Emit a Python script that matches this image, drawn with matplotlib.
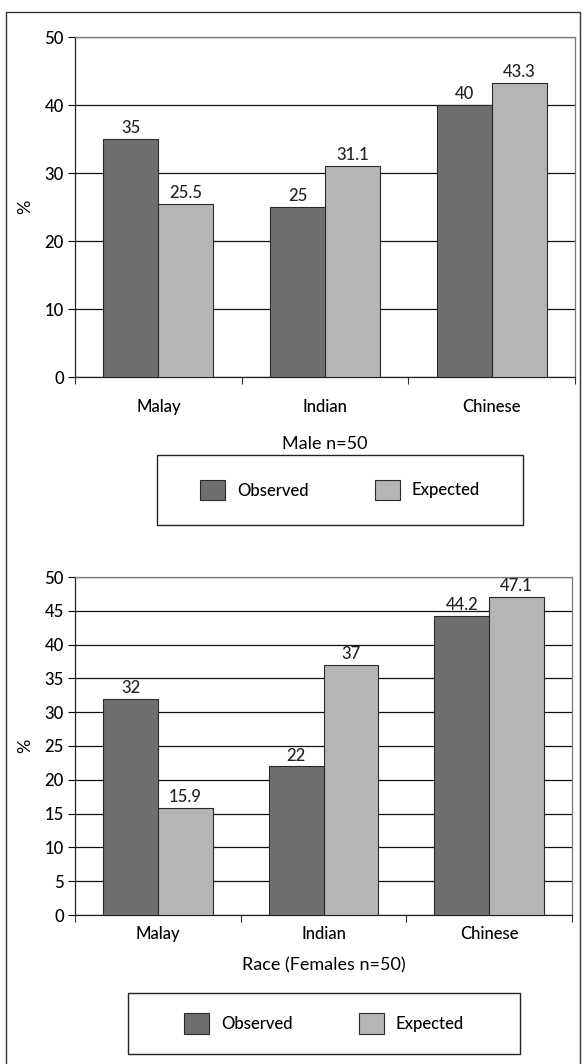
import matplotlib.pyplot as plt
from matplotlib.patches import Rectangle
import numpy as np

plt.rcParams['font.family'] = ['Lato', 'DejaVu Sans']
plt.rcParams['font.weight'] = 'medium'

# Data
categories = ["Malay", "Indian", "Chinese"]
male_observed = [35, 25, 40]
male_expected = [25.5, 31.1, 43.3]
female_observed = [32, 22, 44.2]
female_expected = [15.9, 37, 47.1]
series_names = ["Observed", "Expected"]

OBS_COLOR = "#6f6f6f"
EXP_COLOR = "#b5b5b5"
EDGE = "#2a2a2a"

W, H = 582, 1064
fig = plt.figure(figsize=(W / 100, H / 100), dpi=100)


def px_axes(left, top, right, bottom):
    return [left / W, 1 - bottom / H, (right - left) / W, (bottom - top) / H]


def draw_panel(rect, obs, exp, yticks, xlabel, catpad, xlabpad):
    ax = fig.add_axes(rect)
    x = np.arange(len(categories)) + 0.5
    w = 0.33
    b1 = ax.bar(x - w / 2, obs, w, color=OBS_COLOR, edgecolor=EDGE, linewidth=0.8, zorder=3)
    b2 = ax.bar(x + w / 2, exp, w, color=EXP_COLOR, edgecolor=EDGE, linewidth=0.8, zorder=3)
    for bars in (b1, b2):
        ax.bar_label(bars, fmt="%g", padding=2, fontsize=12, color="#222222")
    ax.set_xlim(0, len(categories))
    ax.set_ylim(0, 50)
    ax.set_yticks(yticks)
    ax.yaxis.grid(True, color="#111111", linewidth=0.9, zorder=0)
    ax.set_axisbelow(True)
    ax.set_xticks(np.arange(len(categories) + 1))
    ax.set_xticklabels([])
    ax.set_xticks(x, minor=True)
    ax.set_xticklabels(categories, minor=True, fontsize=12)
    ax.tick_params(axis="x", which="minor", length=0, pad=catpad)
    ax.tick_params(axis="x", which="major", length=5, width=0.8, color="#333333")
    ax.tick_params(axis="y", length=5, width=0.8, labelsize=12, pad=3)
    ax.set_ylabel("%", fontsize=13, labelpad=8)
    ax.set_xlabel(xlabel, fontsize=13, labelpad=xlabpad)
    for s in ("left", "bottom"):
        ax.spines[s].set_color("#222222")
        ax.spines[s].set_linewidth(0.9)
    for s in ("top", "right"):
        ax.spines[s].set_color("#777777")
        ax.spines[s].set_linewidth(0.9)
    return ax, (b1, b2)


ax1, h1 = draw_panel(px_axes(75, 37, 575, 377), male_observed, male_expected,
                     [0, 10, 20, 30, 40, 50], "Male n=50", 16, 15)
ax2, h2 = draw_panel(px_axes(75, 577, 572, 915), female_observed, female_expected,
                     np.arange(0, 55, 5), "Race (Females n=50)", 8, 11)


def legend_box(handles, left, top, right, bottom):
    r = px_axes(left, top, right, bottom)
    fig.add_artist(Rectangle((r[0], r[1]), r[2], r[3], transform=fig.transFigure,
                             fill=False, edgecolor="#222222", linewidth=1.0))
    fig.legend(handles, series_names, loc="center",
               bbox_to_anchor=(r[0] + r[2] / 2, r[1] + r[3] / 2),
               ncol=2, frameon=False, fontsize=12,
               handlelength=1.5, handleheight=1.5, handletextpad=0.7,
               columnspacing=4.0)


legend_box(h1, 157, 455, 523, 525)
legend_box(h2, 128, 993, 520, 1054)

# outer page frame
fig.add_artist(Rectangle((6 / W, -0.02), (580 - 6) / W, 1 - 12 / H + 0.02,
                         transform=fig.transFigure, fill=False,
                         edgecolor="#333333", linewidth=1.0))

fig.savefig("out.png", dpi=100)
